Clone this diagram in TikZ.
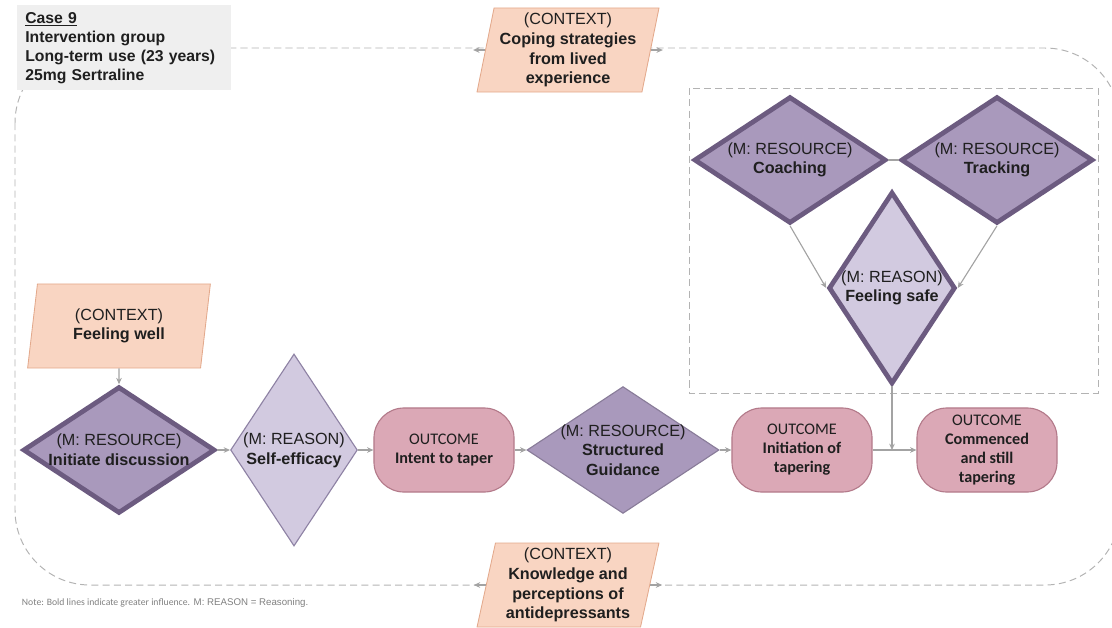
\documentclass[tikz,border=0pt]{standalone}
\usepackage{fontspec}
\setmainfont{Liberation Sans}
\newfontfamily\calibri{Carlito}
\usetikzlibrary{shapes.geometric,arrows.meta}
\definecolor{ctxfill}{HTML}{F9D5C2}
\definecolor{ctxdraw}{HTML}{E3A98C}
\definecolor{outfill}{HTML}{DBA8B6}
\definecolor{outdraw}{HTML}{B37A8A}
\definecolor{resfill}{HTML}{A999BC}
\definecolor{resdraw}{HTML}{6C5B80}
\definecolor{reafill}{HTML}{D2CAE0}
\definecolor{readraw}{HTML}{8E82A4}
\definecolor{linkgray}{HTML}{A3A3A3}
\definecolor{dashgray}{HTML}{B3B3B3}
\definecolor{casefill}{HTML}{EFEFEF}
\definecolor{notegray}{HTML}{808080}
\tikzset{
  every node/.style={font=\fontsize{11.5}{14}\selectfont, align=center, text=black!88},
  casebox/.style={fill=casefill, align=left, text width=4.93cm, inner xsep=0.2cm,
    minimum height=2.125cm, font=\bfseries\fontsize{11.2}{13.5}\selectfont},
  ctx/.style={trapezium, trapezium left angle=78, trapezium right angle=102,
    trapezium stretches=true, fill=ctxfill, draw=ctxdraw, line width=0.6pt,
    minimum width=4.55cm, minimum height=2.1cm, inner sep=0pt},
  outcome/.style={rectangle, rounded corners=0.75cm, fill=outfill, draw=outdraw,
    line width=0.8pt, minimum width=3.5cm, minimum height=2.1cm,
    font=\calibri\fontsize{11.5}{13.5}\selectfont},
  resource/.style={diamond, inner sep=0pt, fill=resfill, draw=resdraw, line width=0.8pt},
  reason/.style={diamond, inner sep=0pt, fill=reafill, draw=readraw, line width=0.8pt},
  heavy/.style={draw=resdraw, line width=3.4pt},
  flatdiamond/.style={minimum width=4.8cm, minimum height=3.17cm},
  talldiamond/.style={minimum width=3.17cm, minimum height=4.8cm},
  mechtext/.style={inner sep=0pt},
  link/.style={draw=linkgray, line width=0.8pt, -{Stealth[length=4.5pt,width=4pt]}},
  frame/.style={draw=dashgray, line width=0.7pt, dash pattern=on 5pt off 3pt},
}
\begin{document}
\begin{tikzpicture}[x=0.025cm, y=-0.025cm]
        \useasboundingbox (0,0) rectangle (1112,627);
        % dashed context frame and mechanism group
        \draw[frame, rounded corners=1.875cm] (15,48) rectangle (1120,585);
        \draw[frame] (689,88) rectangle (1098,393);

        \node[casebox, anchor=north west] (case) at (17,5)
            {\underline{Case 9}\\Intervention group\\Long-term use (23 years)\\25mg Sertraline};

        % contexts
        \node[ctx] (coping) at (568,50)
            {(CONTEXT)\\\textbf{Coping strategies}\\\textbf{from lived}\\\textbf{experience}};
        \node[ctx, trapezium left angle=81, trapezium right angle=99, minimum width=4.6cm] (well) at (119,326)
            {(CONTEXT)\\\textbf{Feeling well}};
        \node[ctx] (knowledge) at (568,585)
            {(CONTEXT)\\\textbf{Knowledge and}\\\textbf{perceptions of}\\\textbf{antidepressants}};

        % mechanisms
        \node[resource, heavy, flatdiamond] (initiate) at (119,450) {};
        \node[reason, talldiamond] (selfeff) at (294,450) {};
        \node[resource, flatdiamond, draw=resdraw!80] (guidance) at (623,450) {};
        \node[resource, heavy, flatdiamond] (coaching) at (790,160) {};
        \node[resource, heavy, flatdiamond] (tracking) at (997,160) {};
        \node[reason, heavy, talldiamond] (safe) at (892,288) {};

        \node[mechtext] (initiate-t) at (initiate) {(M: RESOURCE)\\\textbf{Initiate discussion}};
        \node[mechtext] (selfeff-t) at (selfeff) {(M: REASON)\\\textbf{Self-efficacy}};
        \node[mechtext] (guidance-t) at (guidance) {(M: RESOURCE)\\\textbf{Structured}\\\textbf{Guidance}};
        \node[mechtext] (coaching-t) at (coaching) {(M: RESOURCE)\\\textbf{Coaching}};
        \node[mechtext] (tracking-t) at (tracking) {(M: RESOURCE)\\\textbf{Tracking}};
        \node[mechtext] (safe-t) at (safe) {(M: REASON)\\\textbf{Feeling safe}};

        % outcomes
        \node[outcome] (intent) at (444,450) {OUTCOME\\\textbf{Intent to taper}};
        \node[outcome] (initiation) at (802,450) {OUTCOME\\\textbf{Initiation of}\\\textbf{tapering}};
        \node[outcome] (commenced) at (987,450) {OUTCOME\\\textbf{Commenced}\\\textbf{and still}\\\textbf{tapering}};

        % connectors
        \draw[link] (well) -- (initiate);
        \draw[link] (initiate) -- (selfeff);
        \draw[link] (selfeff) -- (intent);
        \draw[link] (intent) -- (guidance);
        \draw[link] (guidance) -- (initiation);
        \draw[link] (initiation) -- (commenced);
        \draw[link] (coaching.south) -- (safe.west);
        \draw[link] (tracking.south) -- (safe.east);
        \draw[link] (safe.south) -- (safe.south |- commenced.west);
        \draw[draw=linkgray, line width=0.8pt] (coaching.east) -- (tracking.west);
        \draw[link] (coping.west) -- ++(-12,0);
        \draw[link] (coping.east) -- ++(12,0);
        \draw[link] (knowledge.west) -- ++(-12,0);
        \draw[link] (knowledge.east) -- ++(12,0);

        \node[anchor=west, text=notegray, font=\fontsize{6.9}{9}\selectfont] (note) at (17,603)
            {{\calibri Note: Bold lines indicate greater influence.} M: REASON = Reasoning.};
\end{tikzpicture}
\end{document}
